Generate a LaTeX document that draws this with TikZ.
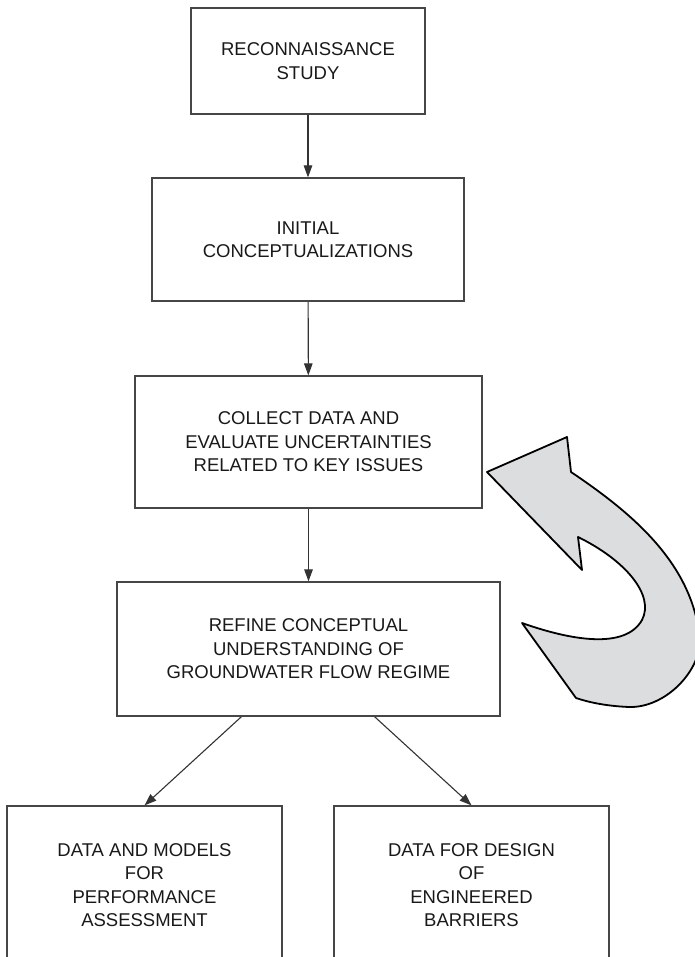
\documentclass[tikz,border=0pt]{standalone}
\usepackage{fontspec}
\setmainfont{Liberation Sans}
\usetikzlibrary{arrows.meta}
\pgfdeclarelayer{edgelayer}
\pgfdeclarelayer{nodelayer}
\pgfsetlayers{edgelayer,nodelayer,main}
\definecolor{boxline}{RGB}{70,70,70}
\definecolor{loopgrey}{RGB}{220,221,223}
\tikzset{font=\fontsize{18.5}{23.5}\selectfont}
\tikzstyle{box}=[rectangle,draw=boxline,line width=1.2pt,inner sep=0pt,align=center,text=black!90]
\tikzstyle{flow}=[draw=black!80,line width=1.1pt,-{Triangle[length=12pt,width=8.5pt]}]

\begin{document}
\begin{tikzpicture}[x=1pt,y=-1pt]
	\useasboundingbox (0,0) rectangle (695,957);
	\begin{pgfonlayer}{nodelayer}
		\node [style=box, minimum width=234pt, minimum height=106pt] (0) at (308, 61) {RECONNAISSANCE\\STUDY};
		\node [style=box, minimum width=312pt, minimum height=123pt] (1) at (308, 239.5) {INITIAL\\CONCEPTUALIZATIONS};
		\node [style=box, minimum width=347pt, minimum height=132pt] (2) at (308.5, 442) {COLLECT DATA AND\\EVALUATE UNCERTAINTIES\\RELATED TO KEY ISSUES};
		\node [style=box, minimum width=383pt, minimum height=134pt] (3) at (308.5, 649) {REFINE CONCEPTUAL\\UNDERSTANDING OF\\GROUNDWATER FLOW REGIME};
		\node [style=box, minimum width=275pt, minimum height=158pt] (4) at (144.5, 885) {DATA AND MODELS\\FOR\\PERFORMANCE\\ASSESSMENT};
		\node [style=box, minimum width=275pt, minimum height=158pt] (5) at (471.5, 885) {DATA FOR DESIGN\\OF\\ENGINEERED\\BARRIERS};
	\end{pgfonlayer}
	\begin{pgfonlayer}{edgelayer}
		\draw [style=flow] (0) to (1);
		\draw [style=flow] (1) to (2);
		\draw [style=flow] (2) to (3);
		\draw [style=flow] ([xshift=-67pt]3.south) to (4.north);
		\draw [style=flow] ([xshift=66pt]3.south) to (5.north);
		% feedback loop arrow
		\draw [fill=loopgrey, draw=black, line width=1.8pt, line join=round]
			(487,472) -- (567,437) -- (571,472)
			.. controls (635,515) and (693,565) .. (700,640)
			.. controls (700,672) and (665,708) .. (629,707)
			.. controls (605,706) and (588,702) .. (576,698)
			-- (522,623)
			.. controls (570,640) and (625,650) .. (642,620)
			.. controls (655,595) and (625,560) .. (578,537)
			-- (582,570) -- cycle;
	\end{pgfonlayer}
\end{tikzpicture}
\end{document}
